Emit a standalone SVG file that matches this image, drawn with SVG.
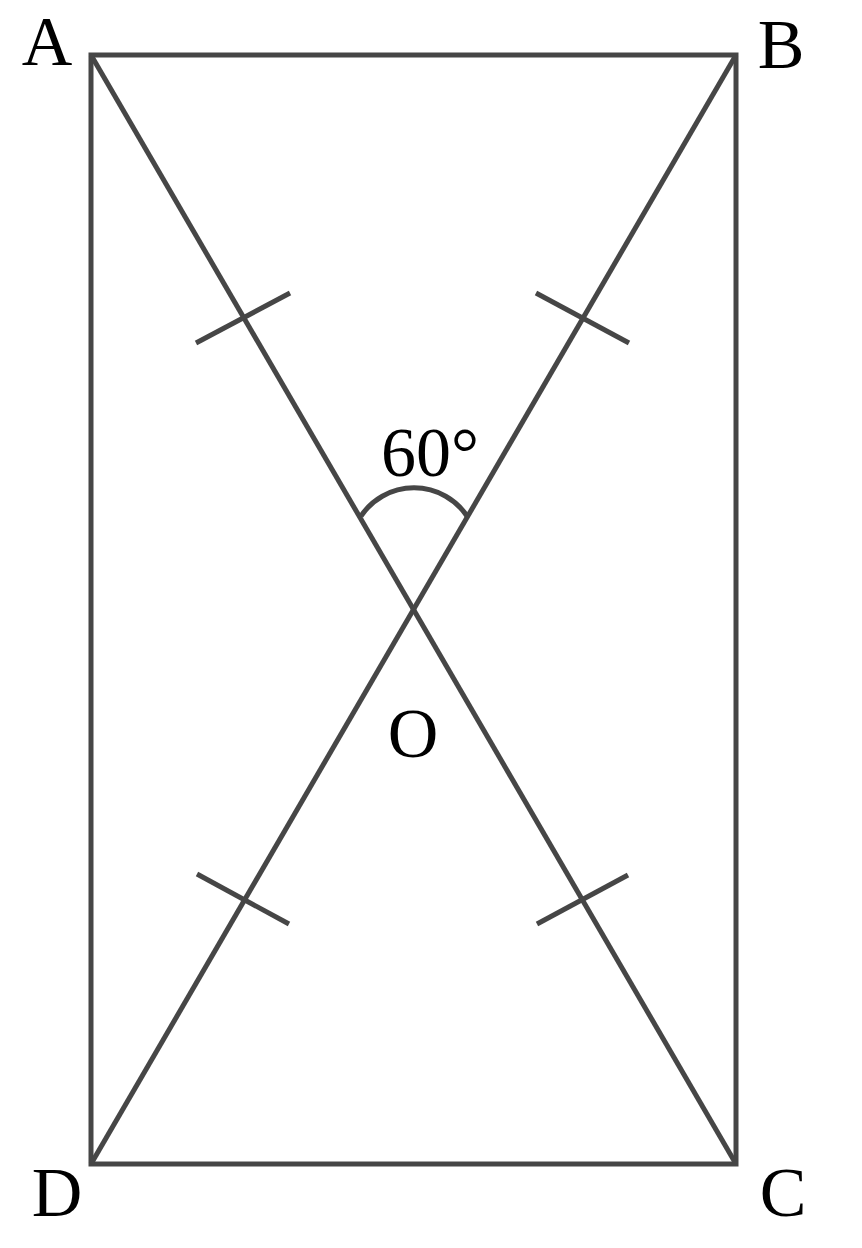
<svg xmlns="http://www.w3.org/2000/svg" width="862" height="1248" viewBox="0 0 862 1248">
<style>
.ln{stroke:#464646;stroke-width:5;fill:none;stroke-linecap:butt}
.lb{font-family:"Liberation Serif","DejaVu Serif",serif;font-size:70px;fill:#000;text-anchor:middle}
</style>
<rect width="862" height="1248" fill="#fff"/>
<g id="connectors">
<rect class="ln" x="91" y="55" width="645" height="1109" stroke-linejoin="miter"/>
<line class="ln" x1="91" y1="55" x2="736" y2="1164"/>
<line class="ln" x1="736" y1="55" x2="91" y2="1164"/>
<line class="ln" x1="196" y1="343" x2="290" y2="293"/>
<line class="ln" x1="536" y1="293" x2="629" y2="343"/>
<line class="ln" x1="197" y1="874" x2="289" y2="924"/>
<line class="ln" x1="537" y1="924" x2="628" y2="875"/>
<path class="ln" d="M361,516 A64,64 0 0 1 467,516"/>
</g>
<g id="A"><text class="lb" x="47" y="65">A</text></g>
<g id="B"><text class="lb" x="781" y="68">B</text></g>
<g id="C"><text class="lb" x="783" y="1216">C</text></g>
<g id="D"><text class="lb" x="57" y="1216">D</text></g>
<g id="O"><text class="lb" x="413" y="757">O</text></g>
<g id="angle"><text class="lb" x="430" y="476">60°</text></g>
</svg>
